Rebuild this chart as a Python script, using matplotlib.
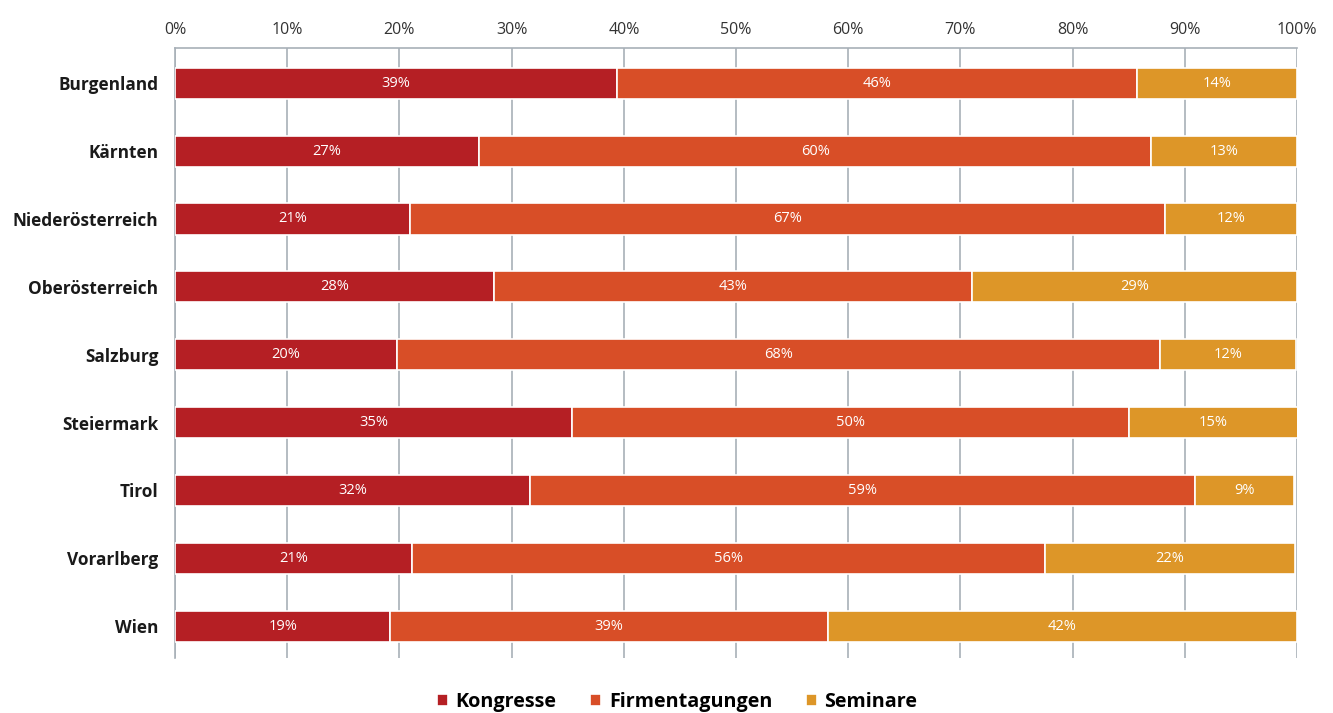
import matplotlib.pyplot as plt
import numpy as np

plt.rcParams['font.family'] = ['Open Sans', 'DejaVu Sans']

regions = ['Burgenland', 'Kärnten', 'Niederösterreich', 'Oberösterreich', 'Salzburg',
           'Steiermark', 'Tirol', 'Vorarlberg', 'Wien']
kongresse = [39.4, 27.1, 20.9, 28.4, 19.8, 35.4, 31.6, 21.1, 19.2]
firmentagungen = [46.3, 59.9, 67.3, 42.6, 68.0, 49.6, 59.3, 56.4, 39.0]
seminare = [14.3, 13.0, 11.8, 29.0, 12.1, 15.1, 8.8, 22.3, 41.8]

series = [('Kongresse', kongresse, '#B51F24'),
          ('Firmentagungen', firmentagungen, '#D84E27'),
          ('Seminare', seminare, '#DD9628')]

fig = plt.figure(figsize=(13.33, 7.13), dpi=100)
ax = fig.add_axes([0.1313, 0.0771, 0.8417, 0.8556])

y = np.arange(len(regions))
left = np.zeros(len(regions))
for name, vals, col in series:
    vals = np.array(vals)
    ax.barh(y, vals, left=left, height=0.46, color=col, edgecolor='white',
            linewidth=1.2, label=name, zorder=3)
    for yi, l, v in zip(y, left, vals):
        ax.text(l + v / 2, yi, f'{round(v)}%', ha='center', va='center',
                color='white', fontsize=10.5, zorder=4)
    left += vals

ax.set_xlim(0, 100)
ax.set_ylim(8.47, -0.52)
ax.set_yticks(y)
ax.set_yticklabels(regions, fontsize=12.4, fontweight='bold', color='#1a1a1a')
ax.set_xticks(range(0, 101, 10))
ax.set_xticklabels([f'{i}%' for i in range(0, 101, 10)], fontsize=11.5, color='#333333')
ax.xaxis.tick_top()
ax.tick_params(axis='both', length=0)
ax.tick_params(axis='y', pad=12)
ax.tick_params(axis='x', pad=7)
ax.grid(axis='x', color='#a8b0b8', linewidth=1.2, zorder=0)
ax.spines['top'].set_color('#a8b0b8')
ax.spines['top'].set_linewidth(1.2)
ax.spines['left'].set_color('#a8b0b8')
ax.spines['left'].set_linewidth(1.2)
ax.spines['right'].set_visible(False)
ax.spines['bottom'].set_visible(False)

leg = fig.legend(loc='lower center', bbox_to_anchor=(0.508, -0.024), ncol=3, frameon=False,
                 handlelength=0.55, handleheight=0.55, handletextpad=0.4, columnspacing=1.7,
                 prop={'size': 14.2, 'weight': 'bold'})

fig.savefig('out.png', dpi=100)
